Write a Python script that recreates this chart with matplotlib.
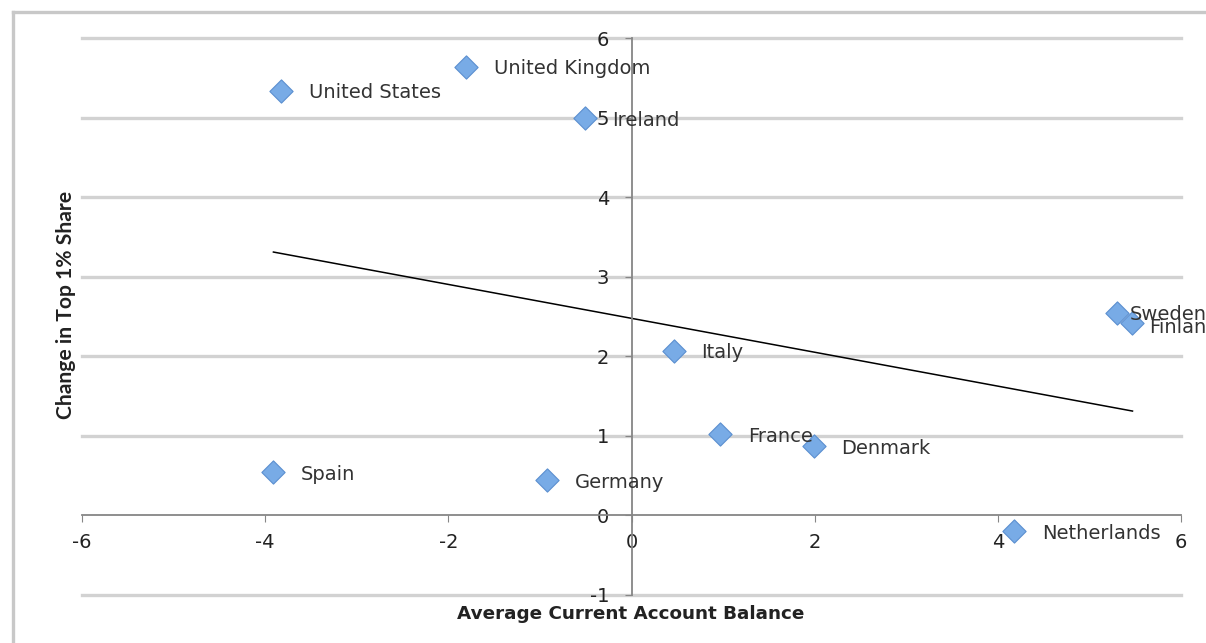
import numpy as np
import matplotlib.pyplot as plt
from matplotlib.lines import Line2D

plt.rcParams['axes.unicode_minus'] = False

# Country data: average current account balance vs change in top 1% income share
countries = ['United States', 'United Kingdom', 'Ireland', 'Sweden', 'Finland',
             'Italy', 'France', 'Denmark', 'Spain', 'Germany', 'Netherlands']
balance = [-3.83, -1.81, -0.51, 5.30, 5.47, 0.46, 0.97, 1.99, -3.91, -0.92, 4.18]
top1_change = [5.34, 5.64, 4.99, 2.54, 2.42, 2.07, 1.02, 0.87, 0.54, 0.44, -0.20]

x_ticks = [-6, -4, -2, 0, 2, 4, 6]
y_ticks = [-1, 0, 1, 2, 3, 4, 5, 6]

# the two crowded Nordic labels sit closer to their markers
label_offset = {'Sweden': (9, -1), 'Finland': (12, -3)}

fig = plt.figure(figsize=(12.06, 6.43), dpi=100)
ax = fig.add_axes([0.068, 0.0747, 0.9113, 0.8662])

# Outer chart frame (only top and left edges fall inside the image)
fig.add_artist(Line2D([13 / 1206, 13 / 1206], [0, 1 - 12 / 643], transform=fig.transFigure,
                      color='#c8c8c8', lw=2.4))
fig.add_artist(Line2D([13 / 1206, 1], [1 - 12 / 643, 1 - 12 / 643], transform=fig.transFigure,
                      color='#c8c8c8', lw=2.4))

ax.set_xlim(-6, 6)
ax.set_ylim(-1, 6)

# Horizontal gridlines
for yv in y_ticks:
    if yv != 0:
        ax.axhline(yv, color='#d2d2d2', lw=2.4, zorder=0, clip_on=False)

# Axes crossing at the origin
for s in ['top', 'right']:
    ax.spines[s].set_visible(False)
ax.spines['left'].set_position(('data', 0))
ax.spines['bottom'].set_position(('data', 0))
ax.spines['left'].set_color('#868686')
ax.spines['bottom'].set_color('#868686')
ax.spines['left'].set_linewidth(1.3)
ax.spines['bottom'].set_linewidth(1.3)

ax.set_xticks(x_ticks)
ax.set_yticks(y_ticks)
ax.tick_params(axis='x', direction='out', length=5, color='#868686', pad=8,
               labelsize=14, labelcolor='#222222')
ax.tick_params(axis='y', direction='out', length=5, color='#868686', pad=11,
               labelsize=14, labelcolor='#222222')

# Scatter points
ax.scatter(balance, top1_change, marker='D', s=140, facecolor='#78abe6',
           edgecolor='#5b8fd0', linewidth=0.8, zorder=3)

for name, xv, yv in zip(countries, balance, top1_change):
    ax.annotate(name, (xv, yv), xytext=label_offset.get(name, (20, -1.5)),
                textcoords='offset points', fontsize=14, color='#333333',
                va='center', zorder=4, annotation_clip=False)

# Linear trend line
slope, intercept = np.polyfit(balance, top1_change, 1)
xs = np.array([min(balance), max(balance)])
ax.plot(xs, slope * xs + intercept, color='black', lw=1.1, zorder=2)

fig.text(631 / 1206, 1 - 614 / 643, 'Average Current Account Balance', ha='center', va='center',
         fontsize=13.2, fontweight='bold', color='#222222', family='DejaVu Sans')
fig.text(66 / 1206, 1 - 305 / 643, 'Change in Top 1% Share', ha='center', va='center',
         rotation=90, fontsize=15.2, fontweight='bold', color='#222222',
         family=['Lato', 'DejaVu Sans'])

fig.savefig('out.png', dpi=100)
